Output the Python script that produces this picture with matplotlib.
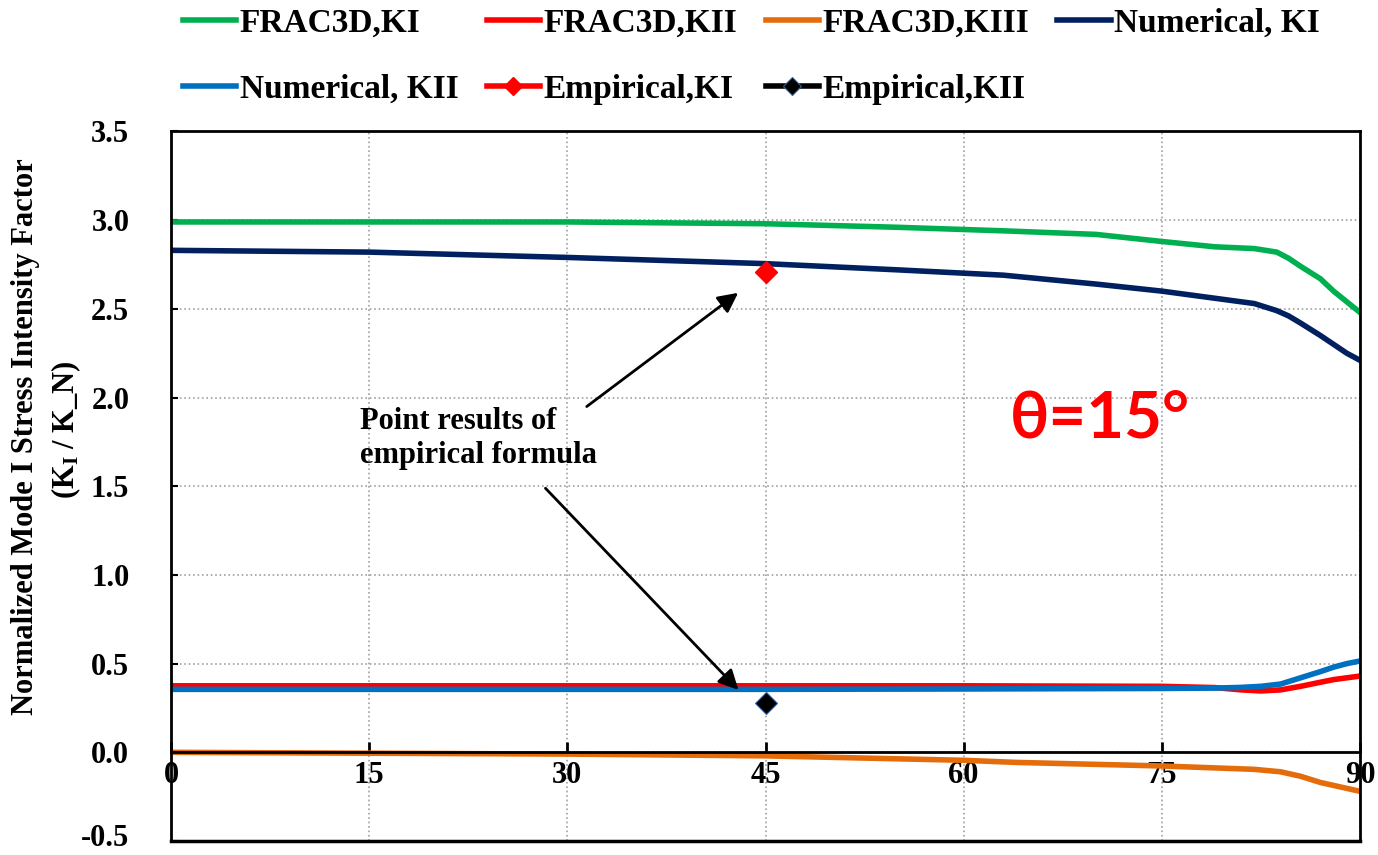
import numpy as np
import matplotlib.pyplot as plt
from matplotlib.lines import Line2D
from matplotlib.transforms import ScaledTranslation

plt.rcParams['font.family'] = 'Liberation Serif'
plt.rcParams['font.weight'] = 'bold'
plt.rcParams['mathtext.fontset'] = 'custom'
plt.rcParams['mathtext.rm'] = 'Liberation Serif:bold'
plt.rcParams['mathtext.it'] = 'Liberation Serif:bold'

# crack front position (deg) and normalized SIFs
x_k1 = [0, 15, 30, 45, 55, 63, 70, 75, 79, 82, 83.7, 84.6, 85.5, 87, 88, 89, 90]
frac_k1 = [2.99, 2.99, 2.99, 2.98, 2.96, 2.94, 2.92, 2.88, 2.85, 2.84, 2.82, 2.785, 2.74,
           2.67, 2.60, 2.54, 2.48]
num_k1 = [2.83, 2.82, 2.79, 2.755, 2.72, 2.69, 2.64, 2.60, 2.56, 2.53, 2.49, 2.46, 2.42,
          2.35, 2.30, 2.25, 2.21]

x_k2 = [0, 15, 30, 45, 60, 75, 79, 81, 82.5, 84, 85.5, 87, 88, 89, 90]
frac_k2 = [0.375, 0.375, 0.375, 0.375, 0.375, 0.372, 0.365, 0.352, 0.346, 0.352, 0.372,
           0.395, 0.41, 0.42, 0.43]
num_k2 = [0.355, 0.355, 0.355, 0.355, 0.357, 0.36, 0.362, 0.366, 0.372, 0.385, 0.42,
          0.455, 0.48, 0.50, 0.515]

x_k3 = [0, 15, 30, 45, 60, 64, 75, 82, 84, 85.5, 87, 88.5, 90]
frac_k3 = [0.0, -0.005, -0.01, -0.02, -0.045, -0.057, -0.077, -0.096, -0.11, -0.135,
           -0.17, -0.195, -0.22]

emp_x = [45]
emp_k1 = [2.71]
emp_k2 = [0.28]

fig = plt.figure(figsize=(13.78, 8.55), dpi=100)
ax = fig.add_axes([171/1378, 1-841/855, (1360-171)/1378, (841-131.5)/855])

lw = 4
h1, = ax.plot(x_k1, frac_k1, '-', color='#00B050', lw=lw, label='FRAC3D,KI')
h2, = ax.plot(x_k2, frac_k2, '-', color='#FF0000', lw=lw, label='FRAC3D,KII')
h3, = ax.plot(x_k3, frac_k3, '-', color='#E46C0A', lw=lw, label='FRAC3D,KIII')
h4, = ax.plot(x_k1, num_k1, '-', color='#002060', lw=lw, label='Numerical, KI')
h5, = ax.plot(x_k2, num_k2, '-', color='#0070C0', lw=lw, label='Numerical, KII')
h6, = ax.plot(emp_x, emp_k1, '-D', color='#FF0000', lw=lw, ms=11, label='Empirical,KI')
h7, = ax.plot(emp_x, emp_k2, '-D', color='black', lw=lw, ms=11, mec='#3060a0', mew=0.8,
              label='Empirical,KII')

ax.set_xlim(0, 90)
ax.set_ylim(-0.5, 3.5)
ax.set_xticks(np.arange(0, 91, 15))
ax.set_yticks(np.arange(-0.5, 3.51, 0.5))
ax.set_yticklabels(['{:.1f}'.format(v) for v in np.arange(-0.5, 3.51, 0.5)])
ax.grid(True, color='#a0a0a0', ls=':', lw=1.2)
ax.set_axisbelow(True)

for s in ax.spines.values():
    s.set_linewidth(2)
ax.spines['bottom'].set_position(('data', 0))
ax.add_line(Line2D([0, 1], [0, 0], transform=ax.transAxes, color='black', lw=2.5,
                   clip_on=False))
ax.tick_params(axis='x', direction='in', length=7, width=2, labelsize=22, pad=6)
ax.tick_params(axis='y', direction='in', length=5, width=1.5, labelsize=22, pad=30)

# nudge the lowest y label up so it stays inside the figure
lab = ax.get_yticklabels()[0]
lab.set_transform(lab.get_transform() + ScaledTranslation(0, 4/72, fig.dpi_scale_trans))

fig.text(26/1378, 1-437/855, 'Normalized Mode I Stress Intensity Factor', rotation=90,
         ha='center', va='center', fontsize=22, fontweight='bold')
fig.text(66/1378, 1-430/855, '(K$_\\mathrm{I}$ / K_N)', rotation=90,
         ha='center', va='center', fontsize=22, fontweight='bold')

ax.annotate('', xy=(43.1, 2.60), xytext=(31.3, 1.94),
            arrowprops=dict(arrowstyle='-|>', color='black', lw=2, mutation_scale=30))
ax.annotate('', xy=(43.1, 0.34), xytext=(28.2, 1.50),
            arrowprops=dict(arrowstyle='-|>', color='black', lw=2, mutation_scale=30))
ax.text(14.3, 1.77, 'Point results of\nempirical formula', fontsize=22,
        fontweight='bold', ha='left', va='center', linespacing=1.2)
ax.text(70.3, 1.88, 'θ=15°', color='#FF0000', fontsize=47, fontweight='bold',
        family='Lato', ha='center', va='center')

# legend filled column by column, so interleave to get the row order
handles = [h1, h5, h2, h6, h3, h7, h4]
fig.legend(handles=handles, labels=[h.get_label() for h in handles],
           loc='upper left', bbox_to_anchor=(183/1378, 1-8/855), ncol=4, frameon=False,
           fontsize=24, handlelength=1.6, handletextpad=0.1, columnspacing=0.85,
           labelspacing=1.05, borderpad=0, borderaxespad=0, markerscale=0.8)

fig.savefig('out.png', dpi=100)
